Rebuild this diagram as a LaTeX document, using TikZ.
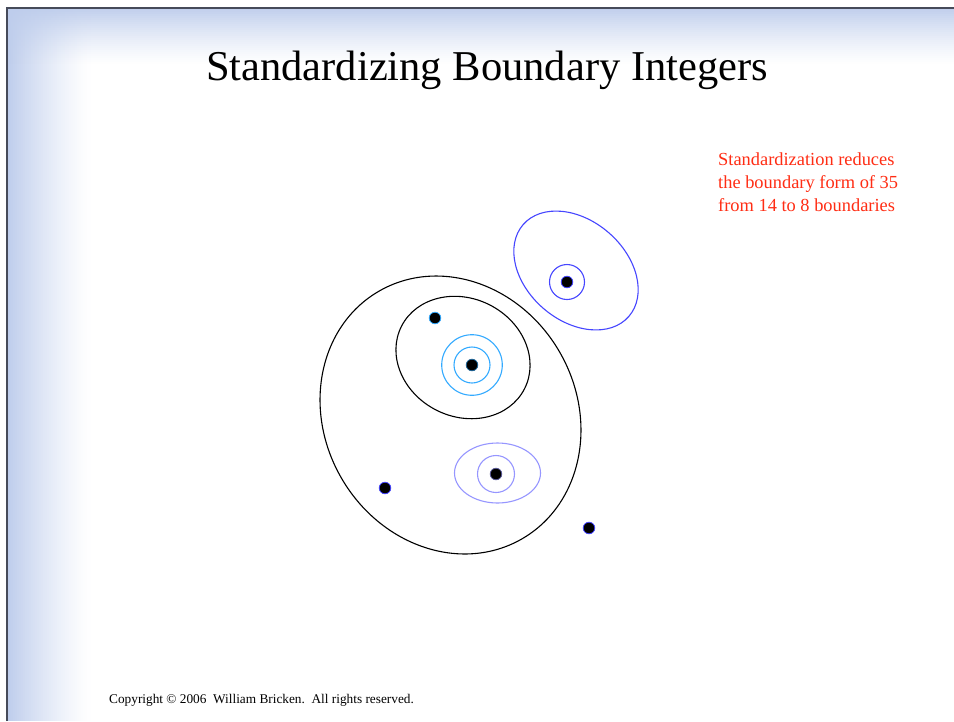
\documentclass[tikz,border=0pt]{standalone}
\usepackage{fontspec}
\setmainfont{Liberation Serif}
\definecolor{blueE}{RGB}{70,70,255}
\definecolor{cyanE}{RGB}{51,170,255}
\definecolor{lavE}{RGB}{150,150,255}
\definecolor{redT}{RGB}{255,45,20}
\definecolor{grad}{RGB}{190,205,236}
\definecolor{frame}{RGB}{70,75,90}
\tikzset{
  curve/.style={line width=1.1pt},
  dotmark/.style={fill=black, draw=#1, line width=0.8pt},
}
\begin{document}
\begin{tikzpicture}[x=1pt,y=-1pt]
\useasboundingbox (0,0) rectangle (954,721);
\fill[white] (0,0) rectangle (954,721);
% slide background gradients (left band and top band)
\foreach \i in {0,...,41} {
  \pgfmathsetmacro{\mix}{100*(1-\i/42)^1.3}
  \fill[grad!\mix!white] ({7+2*\i},8) rectangle ({9.3+2*\i},721);
}
\foreach \i in {0,...,27} {
  \pgfmathsetmacro{\op}{0.95*(1-\i/28)^1.3}
  \fill[grad, fill opacity=\op] (8,{8+2*\i}) rectangle (954,{10+2*\i});
}
% frame lines
\draw[frame, line width=1.6pt] (7,721) -- (7,8) -- (954,8);
% title and texts
\node[anchor=base, inner sep=0pt, font=\fontsize{42.5}{48}\selectfont] (title) at (487,80) {Standardizing Boundary Integers};
\node[anchor=base west, inner sep=0pt, align=left, text=redT, font=\fontsize{18.4}{23}\selectfont] (note) at (718,211)
  {Standardization reduces\\the boundary form of 35\\from 14 to 8 boundaries};
\node[anchor=base west, inner sep=0pt, font=\fontsize{13.3}{15}\selectfont] (copy) at (109,703)
  {Copyright \textcopyright{} 2006\ \ William Bricken.\ \ All rights reserved.};
% black boundaries
\draw[curve, rotate around={30:(450.5,415)}] (450.5,415) ellipse [x radius=126, y radius=143];
\draw[curve, rotate around={-27:(463,357.5)}] (463,357.5) ellipse [x radius=69, y radius=59];
% blue boundaries
\draw[curve, blueE, rotate around={-41:(576,270.5)}] (576,270.5) ellipse [x radius=70, y radius=50];
\draw[curve, blueE] (567,282) circle [radius=17.5];
% cyan boundaries
\draw[curve, cyanE] (472,365) circle [radius=30.3];
\draw[curve, cyanE] (472,365) circle [radius=18];
% lavender boundaries
\draw[curve, lavE] (497.5,473) ellipse [x radius=43, y radius=30];
\draw[curve, lavE] (496,474) circle [radius=18.5];
% dots
\fill[dotmark=blueE] (567,282) circle [radius=5.8];
\fill[dotmark=cyanE!60!black] (472,365) circle [radius=5.8];
\fill[dotmark=cyanE] (435,318) circle [radius=5.8];
\fill[dotmark=lavE!60!black] (496,474) circle [radius=5.8];
\fill[dotmark=blueE] (385,488) circle [radius=5.8];
\fill[dotmark=blueE] (589,528) circle [radius=5.8];
\end{tikzpicture}
\end{document}
